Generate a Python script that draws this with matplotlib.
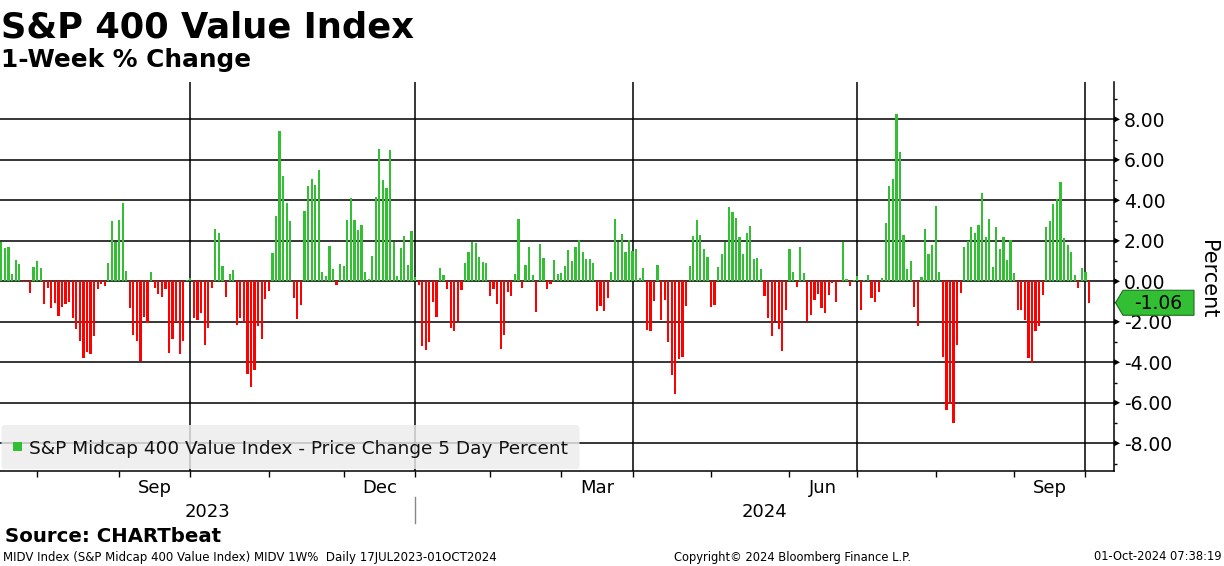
import numpy as np
import pandas as pd
import matplotlib
matplotlib.use("Agg")
import matplotlib.pyplot as plt
from matplotlib.patches import Polygon, Rectangle, FancyBboxPatch

plt.rcParams['font.family'] = ['DejaVu Sans']
plt.rcParams['axes.unicode_minus'] = False

# ---------------- data ----------------
start_date = "2023-07-17"
end_date = "2024-10-01"
market_holidays = ["2023-09-04", "2023-11-23", "2023-12-25", "2024-01-01", "2024-01-15",
                   "2024-02-19", "2024-03-29", "2024-05-27", "2024-06-19", "2024-07-04",
                   "2024-09-02"]

pct_change_1w = [
    1.94, 1.65, 1.70, 0.36, 1.05, 0.86, -0.03, -0.03, -0.58, 0.71,
    1.00, 0.66, -1.12, -0.33, -1.32, -1.07, -1.71, -1.27, -1.12, -1.02,
    -1.81, -2.35, -2.95, -3.79, -3.49, -3.59, -2.70, -0.38, -0.13, -0.23,
    0.91, 2.98, 1.94, 3.03, 3.87, 0.51, -1.32, -2.65, -2.95, -3.93,
    -1.76, -2.06, 0.46, -0.33, -0.63, -0.77, -0.38, -3.54, -2.85, -2.01,
    -3.59, -2.95, 0.07, 0.16, -1.81, -1.91, -1.56, -3.14, -2.30, -0.33,
    2.58, 2.39, 0.76, -0.77, 0.36, 0.56, -2.16, -1.81, -2.01, -4.58,
    -5.22, -4.38, -2.21, -2.85, -0.87, -0.48, 1.40, 3.23, 7.42, 5.20,
    3.87, 2.98, -0.82, -1.86, -1.17, 3.47, 4.71, 5.05, 4.76, 5.50,
    0.46, 0.26, 1.74, 0.61, -0.18, 0.86, 0.76, 3.03, 4.12, 3.03,
    2.53, 2.78, 0.46, 0.12, 1.25, 4.16, 6.54, 5.00, 4.61, 6.49,
    1.94, 0.26, 1.65, 2.24, 0.81, 2.49, 0.21, -0.18, -3.19, -3.39,
    -3.00, -1.02, -1.76, 0.66, 0.31, -0.38, -2.30, -2.45, -1.96, -0.43,
    0.91, 1.45, 1.94, 1.89, 1.20, 0.95, 0.91, -0.72, -0.38, -1.12,
    -3.34, -2.65, -0.53, -0.72, 0.36, 3.08, -0.33, 0.81, 1.70, 0.31,
    -1.51, 1.84, 1.15, -0.38, -0.13, 1.05, 0.36, 0.41, 0.76, 1.55,
    1.00, 1.70, 2.04, 1.45, 1.10, 1.10, 0.91, -1.47, -1.22, -1.47,
    -0.82, 0.46, 3.08, 1.94, 2.34, 1.45, 2.04, 1.50, 1.60, 0.16,
    0.66, -2.40, -2.45, -0.97, 0.81, -1.91, -0.92, -3.00, -4.63, -5.56,
    -3.84, -3.74, -1.22, 0.76, 2.24, 3.03, 2.29, 1.60, 1.20, -1.27,
    -1.17, 0.71, 1.35, 1.94, 3.67, 3.42, 3.13, 2.19, 1.35, 2.39,
    2.73, 1.10, 1.15, 0.61, -0.72, -1.81, -2.70, -1.96, -2.35, -3.44,
    -1.42, 1.60, 0.46, -0.28, 1.70, 0.41, -1.96, -1.66, -0.92, -0.63,
    -1.32, -1.56, -0.67, -0.08, -1.02, -0.02, 1.94, 0.12, -0.23, 0.07,
    0.26, -1.42, 0.07, 0.31, -0.82, -1.02, -0.53, 0.16, 2.88, 4.71,
    5.05, 8.26, 6.39, 2.29, 0.61, 1.00, -1.27, -2.21, 0.21, 2.58,
    1.35, 1.79, 3.72, 0.46, -3.74, -6.35, -6.06, -7.00, -3.14, -0.58,
    1.70, 1.99, 2.68, 2.39, 2.78, 4.36, 2.19, 3.08, 0.71, 2.68,
    1.60, 2.19, 1.05, 2.04, 0.41, -1.42, -1.42, -1.91, -3.79, -4.03,
    -2.45, -2.21, -0.67, 2.68, 2.98, 3.82, 4.07, 4.91, 2.14, 1.79,
    1.45, 0.31, -0.33, 0.66, 0.46, -1.06,
]

y_ticks = [-8, -6, -4, -2, 0, 2, 4, 6, 8]
quarter_labels = ["Sep", "Dec", "Mar", "Jun", "Sep"]
quarter_label_months = ["2023-09", "2023-12", "2024-03", "2024-06", "2024-09"]
year_labels = ["2023", "2024"]
series_name = "S&P Midcap 400 Value Index - Price Change 5 Day Percent"

# ---------------- setup ----------------
GREEN = "#33bf33"
RED = "#ff0000"
W, H = 1224, 566

dates = pd.bdate_range(start_date, end_date, freq="C", holidays=market_holidays)
n = min(len(dates), len(pct_change_1w))
dates = dates[:n]
vals = np.array(pct_change_1w[:n])
xs = np.arange(n)

fig = plt.figure(figsize=(W / 100, H / 100), dpi=100)
fig.patch.set_facecolor("white")

ax_left, ax_right, ax_top, ax_bot = 0, 1114, 81.5, 471
ax = fig.add_axes([ax_left / W, (H - ax_bot) / H, (ax_right - ax_left) / W, (ax_bot - ax_top) / H])
ax.set_facecolor("white")

colors = [GREEN if v >= 0 else RED for v in vals]
ax.bar(xs, vals, width=0.62, color=colors, linewidth=0, zorder=3, antialiased=False)

xmin, xmax = -0.39, 312.0
ax.set_xlim(xmin, xmax)
ax.set_ylim(-9.37, 9.87)

# month boundaries (bar index positions)
month_first = [i for i in range(1, n) if dates[i].month != dates[i - 1].month]
bounds = [i - 1.0 for i in month_first]
months_of_bounds = [dates[i].month for i in month_first]

for y in y_ticks:
    ax.axhline(y, color="black", lw=1.1, zorder=1)
for b, m in zip(bounds, months_of_bounds):
    if m in (1, 4, 7, 10):
        ax.axvline(b, color="black", lw=1.1, zorder=1)

# axes styling
for s in ["left", "top"]:
    ax.spines[s].set_visible(False)
ax.spines["right"].set_color("black")
ax.spines["bottom"].set_color("black")
ax.spines["right"].set_linewidth(1.1)
ax.spines["bottom"].set_linewidth(1.1)

ax.set_xticks(bounds)
ax.set_xticklabels([])
ax.tick_params(axis="x", direction="out", length=4.5, width=1, color="black")

ax.yaxis.tick_right()
ax.set_yticks(y_ticks)
ax.set_yticklabels([f"{v:.2f}" for v in y_ticks])
ax.set_yticks([-9, -7, -5, -3, -1, 1, 3, 5, 7, 9], minor=True)
ax.tick_params(axis="y", which="major", length=0, pad=7, labelsize=13.5, labelcolor="black")
ax.tick_params(axis="y", which="minor", length=2.5, width=1, direction="out", color="black")

# overlay in pixel coordinates
ov = fig.add_axes([0, 0, 1, 1], zorder=10)
ov.set_xlim(0, W)
ov.set_ylim(H, 0)
ov.axis("off")

def ypix(v):
    return H - ax.transData.transform((0, v))[1]

def xpix(v):
    return ax.transData.transform((v, 0))[0]

# tick arrows on right axis
for y in y_ticks:
    yp = ypix(y)
    ov.add_patch(Polygon([(ax_right, yp - 3.2), (ax_right, yp + 3.2), (ax_right + 6, yp)],
                         closed=True, fc="black", ec="none"))

# titles
ov.text(1, 37.5, "S&P 400 Value Index", fontsize=25.4, fontweight="bold", ha="left", va="baseline")
ov.text(1, 67.5, "1-Week % Change", fontsize=17.8, fontweight="bold", ha="left", va="baseline")

# y label
ov.text(1208, 279, "Percent", rotation=270, fontsize=15, ha="center", va="center")

# month labels and year labels
for lab, ym in zip(quarter_labels, quarter_label_months):
    per = pd.Period(ym, freq="M")
    idx = [i for i in range(n) if dates[i].to_period("M") == per]
    a = idx[0] - 1.0
    b = min(idx[-1], xmax)
    ov.text(xpix((a + b) / 2), 488, lab, fontsize=13, ha="center", va="center")

jan_bound = [b for b, m in zip(bounds, months_of_bounds) if m == 1][0]
ov.text(xpix((xmin + jan_bound) / 2), 512, year_labels[0], fontsize=13, ha="center", va="center")
ov.text(xpix((jan_bound + xmax) / 2), 512, year_labels[1], fontsize=13, ha="center", va="center")
ov.plot([xpix(jan_bound)] * 2, [497, 523], color="#888888", lw=1)

# legend
ov.add_patch(FancyBboxPatch((1.5, 425), 578, 44, boxstyle="round,pad=0,rounding_size=3",
                            fc="#ececec", ec="none", alpha=0.82))
ov.add_patch(Rectangle((12.5, 442), 9, 9, fc=GREEN, ec="none"))
ov.text(29, 449, series_name, fontsize=13.3, ha="left", va="center", color="#111111")

# last value tag
last = vals[-1]
yl = ypix(last)
tag = Polygon([(ax_right + 1.5, yl), (ax_right + 9, yl - 12.5), (1194, yl - 12.5),
               (1194, yl + 12.5), (ax_right + 9, yl + 12.5)],
              closed=True, fc=GREEN, ec="#1e6e1e", lw=0.8)
ov.add_patch(tag)
ov.text(1158, yl + 0.5, f"{last:.2f}", fontsize=13.5, ha="center", va="center", color="black")

# footer
ov.text(5, 537, "Source: CHARTbeat", fontsize=14.2, fontweight="bold", ha="left", va="center")
ov.text(3, 557, "MIDV Index (S&P Midcap 400 Value Index) MIDV 1W%  Daily 17JUL2023-01OCT2024",
        fontsize=8.5, ha="left", va="center")
ov.text(793, 557, "Copyright\u00a9 2024 Bloomberg Finance L.P.", fontsize=8.3, ha="center", va="center")
ov.text(1221, 557, "01-Oct-2024 07:38:19", fontsize=8.3, ha="right", va="center")

fig.savefig("out.png", dpi=100)
